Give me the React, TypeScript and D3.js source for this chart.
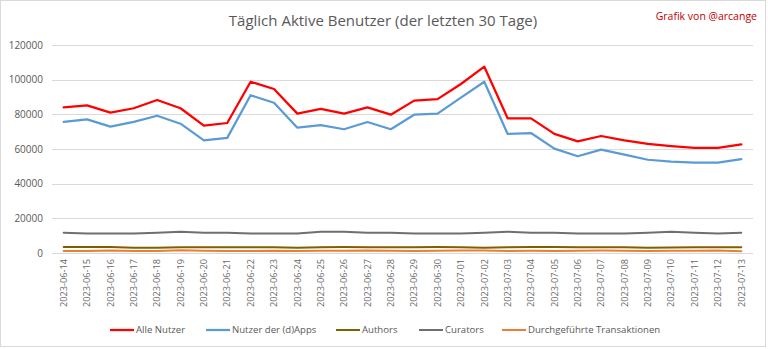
import React from "react";
import * as d3 from "d3";

const dates = [
  "2023-06-14","2023-06-15","2023-06-16","2023-06-17","2023-06-18","2023-06-19","2023-06-20","2023-06-21","2023-06-22","2023-06-23",
  "2023-06-24","2023-06-25","2023-06-26","2023-06-27","2023-06-28","2023-06-29","2023-06-30","2023-07-01","2023-07-02","2023-07-03",
  "2023-07-04","2023-07-05","2023-07-06","2023-07-07","2023-07-08","2023-07-09","2023-07-10","2023-07-11","2023-07-12","2023-07-13",
];
const alleNutzer = [
  84000,85200,81000,83500,88300,83500,73500,75000,98800,94600,
  80400,83100,80400,84000,79800,87900,88800,97500,107500,77700,
  77700,68700,64400,67500,65000,62900,61700,60600,60600,62700,
];
const dappsNutzer = [
  75600,77100,72900,75600,79200,74600,65000,66400,91000,86700,
  72300,73800,71400,75600,71400,79800,80400,89600,98800,68700,
  69200,60200,55800,59600,56700,53800,52700,52100,52100,54200,
];
const authors = [
  3400,3400,3500,3100,3100,3300,3300,3300,3300,3300,
  3100,3300,3400,3300,3300,3300,3400,3300,3000,3300,
  3400,3400,3300,3300,3300,3100,3200,3300,3300,3300,
];
const curators = [
  11700,11200,11200,11200,11700,12300,11700,11700,11200,11200,
  11200,12300,12300,11700,11700,11200,11200,11200,11700,12300,
  11700,11700,11200,11200,11200,11700,12300,11700,11200,11700,
];
const transaktionen = [
  1100,1100,1500,1200,1200,1600,1300,1100,1200,1300,
  1100,1300,1300,1500,1300,1200,1300,1500,1400,1200,
  1300,1200,1300,1400,1300,1200,1300,1300,1400,1000,
];
const yTicks = [0, 20000, 40000, 60000, 80000, 100000, 120000];

const seriesNames = ["Alle Nutzer", "Nutzer der (d)Apps", "Authors", "Curators", "Durchgeführte Transaktionen"];
const seriesColors = ["#ff0000", "#5b9bd5", "#7f6000", "#6f6f6f", "#ed7d31"];
const seriesWidths = [2.25, 2.25, 2, 2, 2];

const W = 768, H = 349;
const FONT = "'Open Sans', 'Noto Sans', sans-serif";

export default function App() {
  const x = d3.scalePoint<string>().domain(dates).range([52, 753]).padding(0.5);
  const y = d3.scaleLinear().domain([0, 120000]).range([253, 45]);
  const data = [alleNutzer, dappsNutzer, authors, curators, transaktionen];
  const line = d3.line<number>().x((_, i) => x(dates[i]) as number).y((d) => y(d));
  const order = [4, 3, 2, 1, 0];
  const legendX = [110, 206, 336, 419, 502];

  return (
    <svg width={W} height={H} style={{ position: "absolute", left: 0, top: 0, background: "#fff" }} fontFamily={FONT}>
      <rect x={0.5} y={0.5} width={W - 3} height={H - 3} fill="#fff" stroke="#d9d9d9" />
      <text x={383} y={26} textAnchor="middle" fontSize={15} fill="#595959">
        Täglich Aktive Benutzer (der letzten 30 Tage)
      </text>
      <text x={757} y={20} textAnchor="end" fontSize={10.5} fill="#c00000">
        Grafik von @arcange
      </text>
      {yTicks.map((t) => (
        <g key={t}>
          <line x1={52} x2={753} y1={Math.round(y(t)) + 0.5} y2={Math.round(y(t)) + 0.5} stroke="#d9d9d9" strokeWidth={1} />
          <text x={43} y={y(t)} dy="0.35em" textAnchor="end" fontSize={10} fill="#595959">
            {t}
          </text>
        </g>
      ))}
      {dates.map((d) => (
        <text
          key={d}
          transform={`translate(${x(d)},259) rotate(-90)`}
          textAnchor="end"
          dy="0.35em"
          fontSize={9.2}
          fill="#666666"
        >
          {d}
        </text>
      ))}
      {order.map((k) => (
        <path
          key={k}
          d={line(data[k]) as string}
          fill="none"
          stroke={seriesColors[k]}
          strokeWidth={seriesWidths[k]}
          strokeLinejoin="round"
          strokeLinecap="round"
        />
      ))}
      {seriesNames.map((n, i) => (
        <g key={n}>
          <line x1={legendX[i]} x2={legendX[i] + 24} y1={330} y2={330} stroke={seriesColors[i]} strokeWidth={seriesWidths[i]} />
          <text x={legendX[i] + 26} y={330} dy="0.35em" fontSize={9.6} fill="#595959">
            {n}
          </text>
        </g>
      ))}
    </svg>
  );
}
